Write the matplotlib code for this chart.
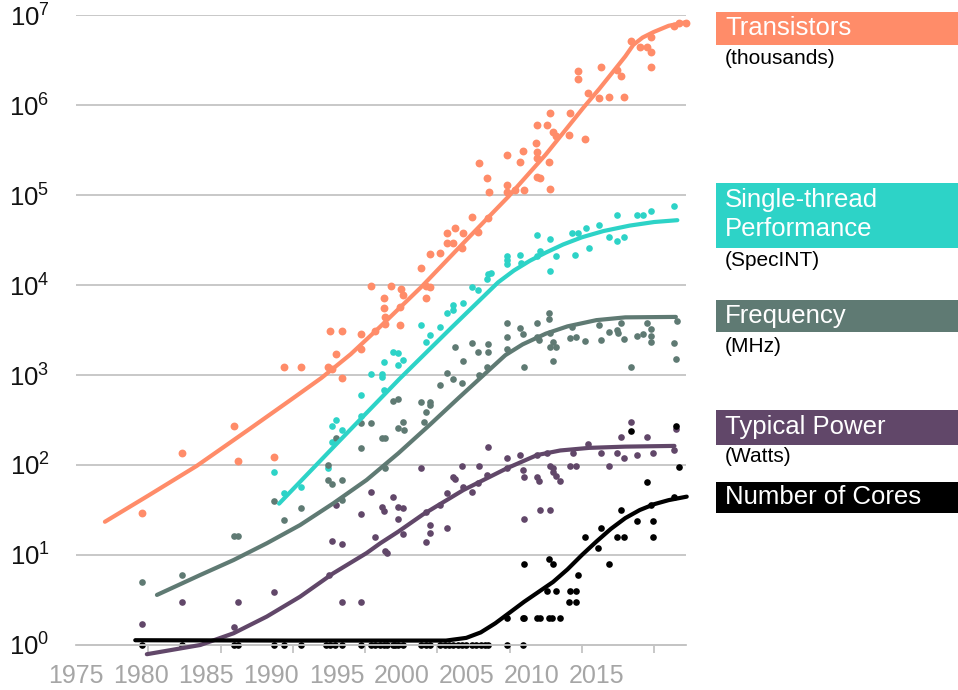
import matplotlib
matplotlib.use("Agg")
import matplotlib.pyplot as plt
from matplotlib.patches import Rectangle
from matplotlib.ticker import FixedLocator, FixedFormatter, LogFormatterMathtext, NullLocator

plt.rcParams['font.family'] = ['Liberation Sans', 'DejaVu Sans']
plt.rcParams['mathtext.fontset'] = 'custom'
plt.rcParams['mathtext.rm'] = 'Liberation Sans'
plt.rcParams['mathtext.it'] = 'Liberation Sans:italic'
plt.rcParams['mathtext.bf'] = 'Liberation Sans:bold'

# ---------------- data ----------------
x_tick_labels = ['1975', '1980', '1985', '1990', '1995', '2000', '2005', '2010', '2015']
tick_years = [1975, 1980, 1985, 1990, 1995, 2000, 2005, 2010, 2015]

transistor_years = [1979.6, 1982.3, 1985.9, 1986.2, 1988.7, 1989.4, 1990.6, 1992.4, 1992.7, 1993.4,
                    1992.6, 1993.4, 1993.0, 1994.7, 1994.7, 1995.7, 1996.3, 1996.3, 1996.4, 1996.4,
                    1995.4, 1996.8, 1997.4, 1997.4, 1997.5, 1997.6, 1999.2, 1999.5, 1999.2, 1998.9,
                    1999.5, 2000.2, 2000.7, 2001.2, 2001.8, 2000.7, 2001.1, 2001.7, 2002.4, 2003.5,
                    2002.8, 2002.9, 2003.4, 2003.6, 2004.8, 2004.8, 2004.8, 2005.4, 2006.0, 2005.7,
                    2005.9, 2006.9, 2006.8, 2006.9, 2006.9, 2006.9, 2007.1, 2007.8, 2007.6, 2008.0,
                    2008.2, 2009.1, 2009.2, 2010.2, 2007.7, 2007.8, 2009.7, 2009.7, 2010.4, 2011.2,
                    2011.9, 2012.9, 2011.3, 2012.4, 2012.7, 2013.4, 2014.0, 2014.5, 2014.8, 2014.8,
                    2014.8, 2016.4, 2016.7, 2017.2]
transistor_values = [29, 135, 271, 111, 122, 1220, 1220, 1220, 1160, 920,
                     3120, 3120, 1730, 2830, 1930, 3100, 5500, 7100, 4400, 3700,
                     9750, 9750, 5740, 3600, 8960, 7750, 9750, 9600, 7100, 15600,
                     22100, 22900, 37500, 42600, 37500, 29000, 29500, 25600, 57400, 55100,
                     39100, 225000, 153000, 109000, 278000, 129000, 109000, 114000, 114000, 234000,
                     310000, 600000, 383000, 303000, 256000, 160000, 153000, 820000, 600000, 505000,
                     453000, 464000, 809000, 419000, 234000, 117000, 2400000, 1940000, 1350000, 1190000,
                     1240000, 1240000, 2670000, 2470000, 2120000, 5140000, 4450000, 4450000, 3850000, 2670000,
                     5740000, 7640000, 8150000, 8200000]
transistor_trend_years = [1977.0, 1980.0, 1983.35, 1987.0, 1990.0, 1992.0, 1994.0, 1996.0, 1998.9,
                          2002.0, 2004.9, 2007.5, 2010.1, 2011.2, 2012.15, 2013.0, 2013.55, 2014.2,
                          2014.95, 2016.0, 2017.2]
transistor_trend_values = [23.4, 45.7, 97.7, 251, 550, 933, 1700, 3390, 9550,
                           31600, 95500, 282000, 933000, 1.51e6, 2.34e6, 3.47e6, 4.65e6, 5.62e6,
                           6.46e6, 7.59e6, 8.32e6]

perf_years = [1988.7, 1989.4, 1990.6, 1992.4, 1992.7, 1992.7, 1993.0, 1993.4, 1994.7, 1994.7,
              1995.4, 1996.2, 1996.2, 1996.3, 1996.3, 1996.9, 1997.3, 1997.3, 1997.6, 1998.9,
              1999.2, 1999.5, 2000.2, 2000.7, 2001.1, 2001.1, 2001.8, 2002.4, 2002.8, 2003.4,
              2003.5, 2003.7, 2004.8, 2004.8, 2004.8, 2005.7, 2005.8, 2006.9, 2006.9, 2007.1,
              2007.8, 2007.8, 2008.2, 2009.3, 2009.7, 2010.3, 2009.5, 2010.5, 2011.2, 2011.9,
              2012.4, 2012.9, 2012.4, 2013.8, 2014.2, 2014.8, 2016.4]
perf_values = [84, 49, 57, 92, 178, 271, 320, 242, 600, 350,
               1030, 1030, 943, 681, 1410, 1820, 1760, 1290, 1470, 3590,
               2330, 2750, 3420, 4850, 6000, 5320, 6360, 9500, 8800, 11600,
               13400, 13700, 21000, 19000, 17100, 21500, 17400, 35900, 21000, 23900,
               32200, 14400, 21000, 37500, 38100, 42500, 21500, 26100, 47000, 33900,
               31200, 33900, 60000, 60000, 60000, 67000, 75500]
perf_trend_years = [1989.05, 1993.0, 1997.4, 2001.0, 2004.2, 2005.3, 2006.4, 2007.5, 2008.7,
                    2010.0, 2011.5, 2013.3, 2015.0, 2016.6]
perf_trend_values = [37.2, 170, 912, 3390, 10700, 14500, 18600, 22900, 28200,
                     33900, 39800, 45700, 50100, 52500]

freq_years = [1979.6, 1982.3, 1985.9, 1986.2, 1988.7, 1989.4, 1990.6, 1992.4, 1992.4, 1992.7,
              1993.0, 1993.4, 1993.4, 1994.7, 1994.7, 1995.4, 1996.2, 1996.4, 1996.4, 1996.9,
              1997.3, 1997.3, 1997.6, 1997.7, 1998.9, 1999.2, 1999.5, 1999.5, 1999.1, 2000.2,
              2000.7, 2001.1, 2001.7, 2001.2, 2001.8, 2002.4, 2002.8, 2003.5, 2003.5, 2002.9,
              2003.4, 2004.8, 2004.8, 2004.8, 2005.7, 2005.9, 2006.0, 2006.9, 2006.9, 2007.0,
              2007.7, 2007.7, 2007.8, 2008.0, 2007.8, 2008.2, 2008.0, 2009.2, 2009.6, 2009.3,
              2010.2, 2011.2, 2011.3, 2011.9, 2012.4, 2012.5, 2012.7, 2012.9, 2013.8, 2014.2,
              2014.5, 2014.8, 2014.8, 2014.8, 2013.4, 2016.6, 2016.4, 2016.5]
freq_values = [5.05, 6.0, 16.3, 16.3, 40, 24.5, 33.5, 100, 68, 61.5,
               201, 68, 40.8, 153, 295, 295, 201, 201, 92, 510,
               541, 256, 303, 245, 505, 391, 505, 464, 303, 774,
               1045, 896, 821, 2063, 1442, 2250, 1815, 2210, 1815, 1000,
               1212, 3750, 2667, 1945, 3300, 2857, 1237, 3735, 2667, 2450,
               4850, 4160, 2950, 2344, 2063, 2063, 1431, 2557, 2667, 3440,
               2388, 3550, 2450, 3030, 3160, 2905, 3750, 2512, 2712, 2857,
               3750, 3245, 2680, 2308, 1218, 4010, 2250, 1506]
freq_trend_years = [1980.6, 1983.6, 1985.9, 1988.2, 1990.5, 1992.8, 1995.1, 1997.3, 1999.5,
                    2001.5, 2003.4, 2004.7, 2005.9, 2007.5, 2009.0, 2011.0, 2013.0, 2016.5]
freq_trend_values = [3.6, 6.0, 8.79, 13.5, 21.5, 37.5, 68.1, 135, 282,
                     562, 1070, 1660, 2190, 2880, 3470, 4070, 4370, 4420]

power_years = [1979.6, 1982.3, 1985.9, 1986.2, 1988.7, 1992.5, 1992.7, 1993.4, 1993.4, 1994.7,
               1993.0, 1994.7, 1995.4, 1995.7, 1996.2, 1996.3, 1996.4, 1996.5, 1996.9, 1997.3,
               1997.6, 1997.3, 1997.6, 1998.9, 1999.2, 1999.5, 1999.5, 1999.2, 2000.2, 2000.7,
               2000.7, 2001.1, 2001.2, 2001.7, 2001.8, 2002.4, 2002.8, 2002.9, 2003.4, 2003.5,
               2004.8, 2004.8, 2005.7, 2005.9, 2006.0, 2006.0, 2006.9, 2006.9, 2007.0, 2007.1,
               2007.6, 2007.8, 2008.0, 2007.8, 2008.0, 2008.2, 2008.5, 2009.2, 2009.6, 2009.4,
               2010.4, 2011.3, 2011.9, 2012.4, 2012.7, 2012.9, 2013.4, 2013.8, 2014.5, 2014.9,
               2016.4, 2016.5]
power_values = [1.71, 2.98, 1.57, 2.98, 3.93, 5.92, 14.4, 13.3, 3.0, 3.0,
                35.5, 28.5, 50, 16, 34.2, 31.2, 11.2, 10.5, 44, 34.4,
                33, 24.9, 17.1, 91.8, 30.3, 21.5, 17.4, 14.1, 35.9, 48.5,
                19.8, 74, 69.4, 97.5, 57.4, 50.5, 62.6, 98.2, 77.4, 157,
                119, 91.9, 129, 88, 74, 24.9, 129, 74, 66.4, 31.6,
                135, 97.5, 91.9, 31.6, 84.3, 75.5, 66.4, 97.5, 97.5, 135,
                171, 135, 97.5, 135, 203, 119, 303, 129, 203, 137,
                147, 249]
power_trend_years = [1979.9, 1983.6, 1985.9, 1988.2, 1990.5, 1992.8, 1995.1, 1996.05, 1997.3,
                     1999.0, 2001.8, 2004.8, 2006.9, 2008.5, 2010.5, 2013.0, 2016.4]
power_trend_values = [0.79, 1.0, 1.35, 2.07, 3.44, 6.27, 10.5, 13.5, 18.2,
                      28.2, 52.7, 91.8, 129, 145, 155, 160, 163]

cores_years = [1979.6, 1982.3, 1985.9, 1986.2, 1988.7, 1989.4, 1990.6, 1992.3, 1992.6, 1992.9,
               1993.4, 1994.7, 1995.4, 1995.7, 1996.0, 1996.3, 1996.5, 1996.9, 1997.1, 1997.3,
               1997.6, 1998.9, 1999.2, 1999.5, 2000.2, 2000.5, 2000.8, 2001.1, 2001.4, 2001.7,
               2002.0, 2002.4, 2002.7, 2003.0, 2003.3, 2003.5, 2004.8, 2005.9,
               2004.8, 2005.9, 2006.0, 2006.9, 2007.1, 2007.7, 2007.9, 2008.5, 2006.0, 2007.7,
               2008.0, 2007.6, 2008.2, 2009.2, 2009.6, 2009.1, 2009.6, 2009.7, 2010.2, 2011.3,
               2011.1, 2011.9, 2012.4, 2012.9, 2012.7, 2013.8, 2014.5, 2014.8, 2014.9, 2014.9,
               2013.4, 2016.4, 2016.5, 2016.7]
cores_values = [1, 1, 1, 1, 1, 1, 1, 1, 1, 1,
                1, 1, 1, 1, 1, 1, 1, 1, 1, 1,
                1, 1, 1, 1, 1, 1, 1, 1, 1, 1,
                1, 1, 1, 1, 1, 1, 1, 1,
                2, 2, 2, 2, 2, 2, 2, 2, 8, 9,
                8, 4, 4, 4, 4, 3, 3, 6, 16, 20,
                12, 8, 16, 16, 32, 24, 64, 36, 24, 16,
                240, 44, 270, 96]
cores_trend_years = [1979.1, 1990.0, 2000.6, 2002.0, 2003.0, 2004.0, 2005.0, 2006.0, 2007.0,
                     2008.0, 2009.0, 2010.0, 2011.0, 2012.0, 2013.0, 2014.0, 2015.0, 2016.0, 2017.25]
cores_trend_values = [1.13, 1.12, 1.12, 1.2, 1.38, 1.74, 2.29, 3.02, 3.89,
                      5.01, 6.92, 10.0, 14.1, 19.5, 25.7, 31.6, 36.7, 40.7, 44.5]

legend_titles = ['Transistors', 'Single-thread\nPerformance', 'Frequency', 'Typical Power', 'Number of Cores']
legend_units = ['(thousands)', '(SpecINT)', '(MHz)', '(Watts)', '']
series_colors = ['#FF8C69', '#2DD3C7', '#5F7A73', '#614769', '#000000']

# ---------------- figure ----------------
W, H = 958, 690
fig = plt.figure(figsize=(W / 100, H / 100), dpi=100)
ax_left, ax_right, ax_top, ax_bottom = 76, 686, 15, 655.8
ax = fig.add_axes([ax_left / W, 1 - ax_bottom / H, (ax_right - ax_left) / W, (ax_bottom - ax_top) / H])
ax.set_yscale('log')
ax.set_xlim(1975, 2017.2)
ax.set_ylim(10 ** -0.12, 1e7)
ax.set_axisbelow(True)

series = [
    (transistor_years, transistor_values, transistor_trend_years, transistor_trend_values, 32),
    (perf_years, perf_values, perf_trend_years, perf_trend_values, 23),
    (freq_years, freq_values, freq_trend_years, freq_trend_values, 23),
    (power_years, power_values, power_trend_years, power_trend_values, 23),
    (cores_years, cores_values, cores_trend_years, cores_trend_values, 23),
]
for (xs, ys, tx, ty, s), col in zip(series, series_colors):
    ax.scatter(xs, ys, s=s, color=col, linewidths=0, zorder=2, clip_on=False)
    ax.plot(tx, ty, color=col, lw=3.0, zorder=3, solid_capstyle='round',
            solid_joinstyle='round', clip_on=False)

# spines / grid
for sp in ['top', 'right', 'left']:
    ax.spines[sp].set_visible(False)
ax.spines['bottom'].set_position(('data', 1))
ax.spines['bottom'].set_color('#C4C4C4')
ax.spines['bottom'].set_linewidth(1.3)
ax.yaxis.grid(True, color='#C4C4C4', lw=1.3)
ax.xaxis.grid(False)

ax.yaxis.set_major_locator(FixedLocator([10.0 ** k for k in range(0, 8)]))
ax.yaxis.set_minor_locator(NullLocator())
ax.yaxis.set_major_formatter(LogFormatterMathtext())
ax.tick_params(axis='y', which='major', length=0, pad=19, labelsize=18.5, labelcolor='#111111')

label_step = 65.1 / 14.45  # label spacing in axis units (labels are compressed)
label_pos = [tick_years[0] + i * label_step for i in range(len(x_tick_labels))]
ax.xaxis.set_major_locator(FixedLocator(label_pos))
ax.xaxis.set_major_formatter(FixedFormatter(x_tick_labels))
ax.xaxis.set_minor_locator(FixedLocator(tick_years))
ax.tick_params(axis='x', which='major', length=0, pad=14, labelsize=18, labelcolor='#A6A6A6')
ax.tick_params(axis='x', which='minor', length=6, width=1.3, color='#C4C4C4')

# ---------------- right-hand legend boxes ----------------
def fx(px):
    return px / W

def fy(py):
    return 1 - py / H

boxes = [(12, 45), (183, 248), (300, 332), (410, 445), (482, 513)]
title_y = [[28], [200, 229], [316], [427], [497]]
unit_y = [58, 260, 347, 457, None]
for (top, bot), ty_list, uy, title, unit, col in zip(boxes, title_y, unit_y, legend_titles, legend_units, series_colors):
    fig.add_artist(Rectangle((fx(716), fy(bot)), fx(W) - fx(716), (bot - top) / H,
                             transform=fig.transFigure, color=col, lw=0))
    for line, yy in zip(title.split('\n'), ty_list):
        fig.text(fx(725), fy(yy), line, color='white', fontsize=18.5, ha='left', va='center')
    if unit:
        fig.text(fx(725), fy(uy), unit, color='black', fontsize=15, ha='left', va='center')

fig.savefig('out.png', dpi=100)
